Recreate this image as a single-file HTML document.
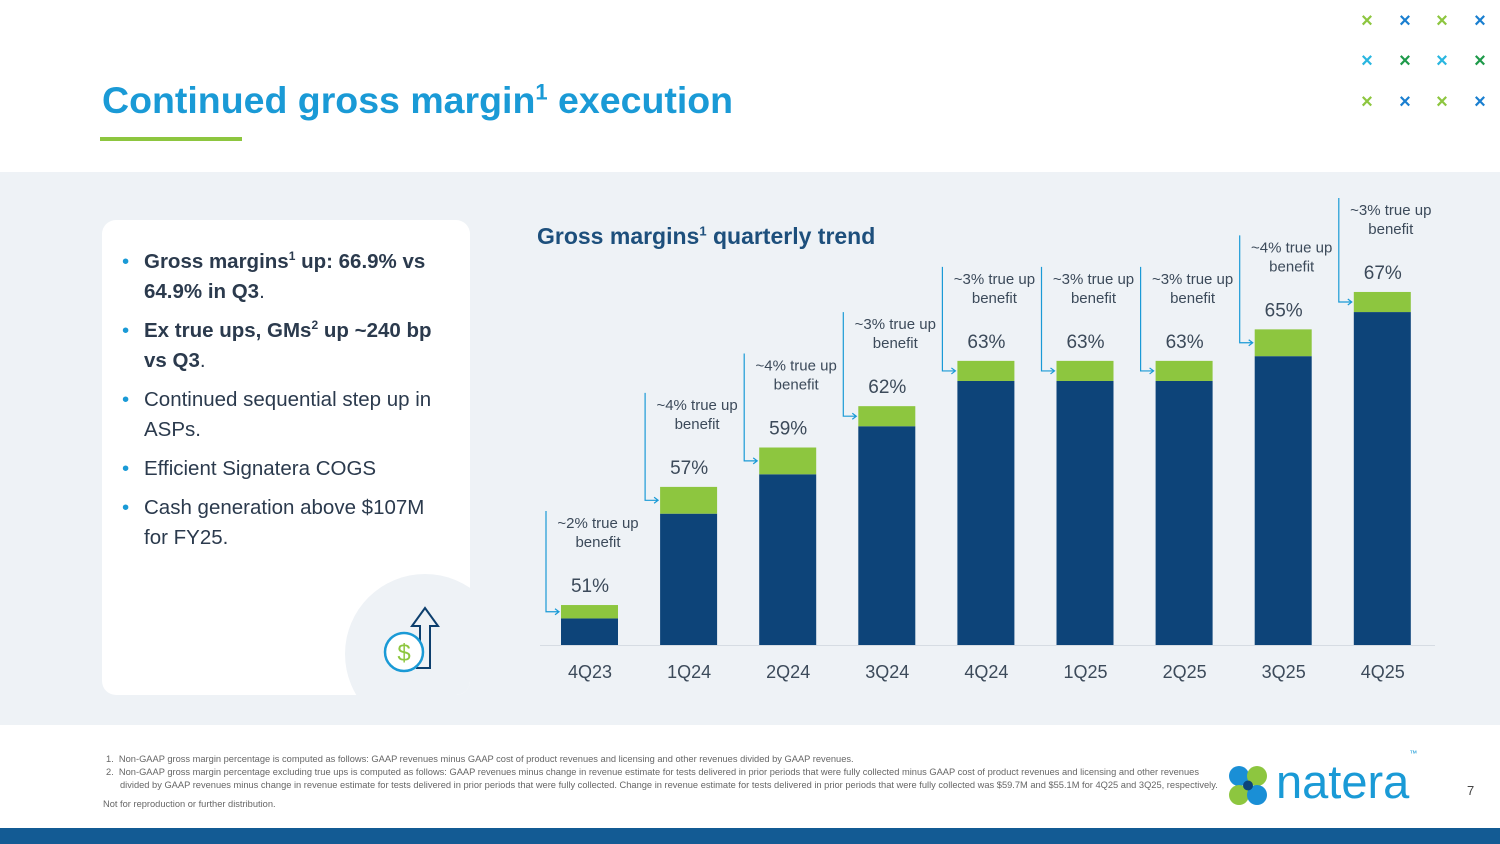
<!DOCTYPE html>
<html><head><meta charset="utf-8"><style>
body{margin:0;width:1500px;height:844px;position:relative;background:#fff;font-family:"Liberation Sans",sans-serif;overflow:hidden}
.abs{position:absolute}
#title{left:102px;top:79px;font-size:37.5px;font-weight:bold;color:#1a9ad6;white-space:nowrap}
#title sup{font-size:22px;line-height:0}
ul{margin:0;padding:0;list-style:none}
li{position:relative;padding-left:24px;font-size:20.5px;line-height:30px;color:#2b3a4d;margin-bottom:9px}
li:before{content:"•";position:absolute;left:2px;top:0;color:#1a9ad6}
li sup{font-size:12px;line-height:0}
.fn{font-size:9.3px;color:#666;line-height:13px}
</style></head><body>
<div id="title" class="abs">Continued gross margin<sup>1</sup> execution</div>
<div class="abs" style="left:100px;top:137px;width:142px;height:4px;background:#8dc63f"></div>
<svg class="abs" style="left:1340px;top:0" width="160" height="120">
<g font-size="20" font-family="Liberation Sans" text-anchor="middle" font-weight="bold">
<text x="27" y="27" fill="#8dc63f">×</text><text x="65" y="27" fill="#1a7fd0">×</text><text x="102" y="27" fill="#8dc63f">×</text><text x="140" y="27" fill="#1a7fd0">×</text>
<text x="27" y="67" fill="#29b6e0">×</text><text x="65" y="67" fill="#1e9a4a">×</text><text x="102" y="67" fill="#29b6e0">×</text><text x="140" y="67" fill="#1e9a4a">×</text>
<text x="27" y="108" fill="#8dc63f">×</text><text x="65" y="108" fill="#1a7fd0">×</text><text x="102" y="108" fill="#8dc63f">×</text><text x="140" y="108" fill="#1a7fd0">×</text>
</g></svg>
<div class="abs" style="left:0;top:172px;width:1500px;height:553px;background:#eef2f6"></div>
<div class="abs" style="left:102px;top:220px;width:368px;height:475px;background:#fff;border-radius:14px;overflow:hidden">
<div class="abs" style="left:243px;top:354px;width:160px;height:160px;border-radius:50%;background:#eef2f6"></div>
<svg class="abs" style="left:278px;top:382px" width="60" height="72">
<path d="M36 66 H50 V24 H58 L45 6 L32 24 H40 V42" fill="none" stroke="#0d3f6e" stroke-width="2"/>
<circle cx="24" cy="50" r="19" fill="#fff" stroke="#1a9ad6" stroke-width="2.5"/>
<text x="24" y="59" text-anchor="middle" font-size="24" fill="#8dc63f" font-family="Liberation Sans">$</text>
</svg>
<ul class="abs" style="left:18px;top:27px;width:330px">
<li><b>Gross margins<sup>1</sup> up: 66.9% vs 64.9% in Q3</b>.</li>
<li><b>Ex true ups, GMs<sup>2</sup> up ~240 bp vs Q3</b>.</li>
<li>Continued sequential step up in ASPs.</li>
<li>Efficient Signatera COGS</li>
<li>Cash generation above $107M for FY25.</li>
</ul></div>
<div class="abs" style="left:537px;top:223px;font-size:23px;font-weight:bold;color:#1d4f7c">Gross margins<sup style="font-size:13px;line-height:0">1</sup> quarterly trend</div>
<svg id="chart" class="abs" style="left:0;top:0" width="1500" height="844"></svg>
<div class="abs fn" style="left:106px;top:753px;width:1112px">
<div>1.&nbsp; Non-GAAP gross margin percentage is computed as follows: GAAP revenues minus GAAP cost of product revenues and licensing and other revenues divided by GAAP revenues.</div>
<div style="padding-left:14px;text-indent:-14px">2.&nbsp; Non-GAAP gross margin percentage excluding true ups is computed as follows: GAAP revenues minus change in revenue estimate for tests delivered in prior periods that were fully collected minus GAAP cost of product revenues and licensing and other revenues divided by GAAP revenues minus change in revenue estimate for tests delivered in prior periods that were fully collected. Change in revenue estimate for tests delivered in prior periods that were fully collected was $59.7M and $55.1M for 4Q25 and 3Q25, respectively.</div>
<div style="margin-top:6px;margin-left:-3px">Not for reproduction or further distribution.</div></div>
<svg class="abs" style="left:1228px;top:764px" width="40" height="44">
<circle cx="11" cy="12" r="10" fill="#1a8fd6"/><circle cx="29" cy="12" r="10" fill="#8dc63f"/><circle cx="11" cy="31" r="10" fill="#8dc63f"/><circle cx="29" cy="31" r="10" fill="#1a8fd6"/><circle cx="20" cy="21.5" r="5" fill="#0d4479"/></svg>
<div class="abs" style="left:1276px;top:754px;font-size:47px;color:#1a9ad6">natera<span style="font-size:8px;vertical-align:top;line-height:0">™</span></div>
<div class="abs" style="left:1467px;top:783px;font-size:13px;color:#444">7</div>
<div class="abs" style="left:0;top:828px;width:1500px;height:16px;background:#135b94"></div>
<script>
const categories=["4Q23","1Q24","2Q24","3Q24","4Q24","1Q25","2Q25","3Q25","4Q25"];
const totalMargin=[51,57,59,61.1,63.4,63.4,63.4,65,66.9];
const trueUp=[2,4,4,3,3,3,3,4,3];
const pctLabels=["51%","57%","59%","62%","63%","63%","63%","65%","67%"];
const svg=document.getElementById('chart');const NS="http://www.w3.org/2000/svg";
const yMin=48.97,base=645,ppu=19.69;
function y(v){return base-(v-yMin)*ppu;}
function x(i){return 590+i*99.1;}
function gH(t){return t*6.7;}
function mk(tag,attrs,txt){const e=document.createElementNS(NS,tag);for(const k in attrs)e.setAttribute(k,attrs[k]);if(txt!==undefined)e.textContent=txt;svg.appendChild(e);return e;}
const ax=mk('line',{x1:540,x2:1435,y1:645.5,y2:645.5,stroke:'#d6dce3','stroke-width':1});


categories.forEach((c,i)=>{
 const cx=x(i),top=y(totalMargin[i]),g=gH(trueUp[i]);
 const d=mk('rect',{x:cx-29,y:top+g,width:57,height:base-top-g,fill:'#0d4479'});
 
 
 const gr=mk('rect',{x:cx-29,y:top,width:57,height:g,fill:'#8dc63f'});
 
 
 const l=mk('text',{x:cx,y:top-13,'text-anchor':'middle','font-size':19,fill:'#3c4a5a'},pctLabels[i]);
 
 
 const t=mk('text',{x:x(i),y:643+35,'text-anchor':'middle','font-size':18,fill:'#3c4a5a'},c);
 
 
 const ay=top-82;
 const a1=mk('text',{x:cx+8,y:ay+5,'text-anchor':'middle','font-size':15,fill:'#3c4a5a'},'~'+trueUp[i]+'% true up');
 
 
 mk('text',{x:cx+8,y:ay+24,'text-anchor':'middle','font-size':15,fill:'#3c4a5a'},'benefit');
 const lx=cx-44,my=top+g/2;
 const br=mk('path',{d:`M${lx} ${ay-12} V${my} H${cx-31} M${cx-35} ${my-3} L${cx-31} ${my} L${cx-35} ${my+3}`,fill:'none',stroke:'#1a9ad6','stroke-width':1.2});
 
 
});
</script>
</body></html>
